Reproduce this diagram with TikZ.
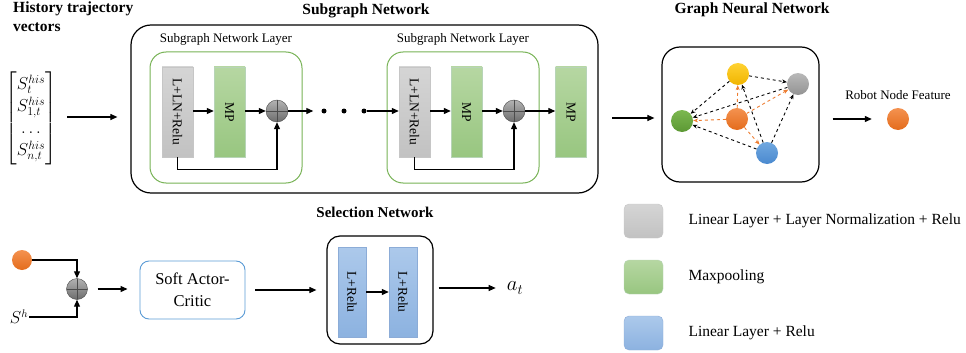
\documentclass[tikz,border=0pt]{standalone}
\usepackage{amsmath}
\usepackage{fontspec}
\setmainfont{Liberation Serif}
\usetikzlibrary{arrows.meta}

\definecolor{frgreen}{HTML}{77B255}
\definecolor{sacblue}{HTML}{5B9BD5}

\tikzset{
  arr/.style={-{Triangle[length=7pt,width=6pt]}, line width=1.1pt},
  title/.style={font=\bfseries\fontsize{15.5}{19}\selectfont},
  txt/.style={font=\fontsize{13}{15}\selectfont},
  legtxt/.style={font=\fontsize{15.5}{18}\selectfont, anchor=west},
  outer/.style={draw, line width=1.2pt, rounded corners=20pt, inner sep=0pt},
  layer/.style={draw=frgreen, line width=1pt, rounded corners=16pt, minimum width=152pt, minimum height=131pt},
  linfill/.style={draw=gray!45, top color=gray!33, bottom color=gray!48},
  mpfill/.style={draw=green!25!gray!45, top color={rgb,255:red,182;green,215;blue,162}, bottom color={rgb,255:red,152;green,198;blue,128}},
  relufill/.style={draw={rgb,255:red,140;green,172;blue,215}, top color={rgb,255:red,172;green,201;blue,235}, bottom color={rgb,255:red,140;green,178;blue,224}},
  blk/.style={inner sep=0pt, minimum width=31pt, minimum height=90pt, font=\fontsize{13.5}{15}\selectfont},
  addc/.style={circle, draw=black!70, top color=gray!60, bottom color=gray!85!black, minimum size=22pt, inner sep=0pt,
    path picture={\draw[line width=0.8pt] (path picture bounding box.north) -- (path picture bounding box.south)
      (path picture bounding box.west) -- (path picture bounding box.east);}},
  dotc/.style={circle, fill=black, minimum size=5pt, inner sep=0pt},
  ball/.style={circle, minimum size=22pt, inner sep=0pt},
  yel/.style={top color={rgb,255:red,255;green,210;blue,50}, bottom color={rgb,255:red,240;green,180;blue,0}},
  gry/.style={top color=gray!55, bottom color=gray!85},
  grn/.style={top color={rgb,255:red,124;green,184;blue,80}, bottom color={rgb,255:red,92;green,152;blue,52}},
  org/.style={top color={rgb,255:red,244;green,146;blue,80}, bottom color={rgb,255:red,228;green,108;blue,28}},
  blu/.style={top color={rgb,255:red,112;green,168;blue,224}, bottom color={rgb,255:red,74;green,137;blue,207}},
  gedge/.style={dashed, line width=0.9pt, -{Stealth[length=5pt,width=4pt]}},
  oedge/.style={gedge, draw={rgb,255:red,237;green,125;blue,49}},
}

\begin{document}
\begin{tikzpicture}[x=1pt,y=-1pt]
\useasboundingbox (0,0) rectangle (966,353);

% history vectors
\node[title, anchor=north west, align=left, inner sep=0pt] (histt) at (13,2) {History trajectory\\vectors};
\node[font=\fontsize{16.5}{22}\selectfont, inner sep=0pt] (mat) at (31,118)
  {$\renewcommand{\arraystretch}{1}\begin{bmatrix} S_t^{his}\\ S_{1,t}^{his}\\ \dots\\ S_{n,t}^{his}\end{bmatrix}$};
\coordinate (matout) at (67,117);

% subgraph network
\node[outer, minimum width=467pt, minimum height=168pt] (sgn) at (364.5,109) {};
\node[title] (sgnt) at (366,11) {Subgraph Network};
\foreach \i/\s in {1/0,2/237}{
  \begin{scope}[shift={(\s,0)}]
  \node[layer] (lay\i) at (226,117.5) {};
  \node[txt] (layt\i) at (226,39) {Subgraph Network Layer};
  \node[blk, linfill] (lin\i) at (177.5,112) {\rotatebox{-90}{L+LN+Relu}};
  \node[blk, mpfill] (mp\i) at (229.5,112) {\rotatebox{-90}{MP}};
  \node[addc] (add\i) at (277,111) {};
  \draw[arr] (lin\i.east |- add\i) -- (mp\i.west |- add\i);
  \draw[arr] (mp\i.east |- add\i) -- (add\i);
  \draw[arr] (lin\i.south) -- ++(0,12) -| (add\i.south);
  \end{scope}
}
\foreach \x [count=\k] in {324,344,364}
  \node[dotc] (dot\k) at (\x,111) {};
\node[blk, mpfill] (mp3) at (571,112) {\rotatebox{-90}{MP}};
\draw[arr, shorten >=8pt] (add1) -- (dot1);
\draw[arr] (dot3) -- (lin2.west |- dot3);
\draw[arr] (add2) -- (mp3.west |- add2);
\draw[arr, shorten >=13pt] (matout) -- (matout -| sgn.west);

% graph neural network
\node[outer, rounded corners=18pt, minimum width=157pt, minimum height=135pt] (gnn) at (740.5,114.5) {};
\node[title] (gnnt) at (752,10) {Graph Neural Network};
\node[ball, yel] (ny) at (738,74) {};
\node[ball, gry] (ngr) at (798,84) {};
\node[ball, grn] (ng) at (682,121) {};
\node[ball, org] (no) at (737,119) {};
\node[ball, blu] (nb) at (767,153) {};
\foreach \a/\b in {ny/ngr, ny/ng, ngr/ng, nb/ng, nb/ny, nb/ngr}
  \draw[gedge] (\a) -- (\b);
\foreach \b in {ny, ngr, ng, nb}
  \draw[oedge] (no) -- (\b);
\coordinate (gnnin) at (612,118);
\draw[arr, shorten >=7pt] (gnnin) -- (gnnin -| gnn.west);

% robot node feature
\node[txt] (rnft) at (898,95) {Robot Node Feature};
\node[ball, org] (rob) at (898,119) {};
\draw[arr, shorten <=13pt, shorten >=15pt] (gnn.east |- rob) -- (rob);

% selection part
\node[ball, org, minimum size=20pt] (obs) at (22,260) {};
\node[addc, minimum size=21pt] (addb) at (77,289) {};
\node[font=\fontsize{16}{18}\selectfont, inner sep=1pt] (sh) at (19,317) {$S^h$};
\draw[arr] (obs.east) -| (addb.north);
\draw[arr] (sh.east) -| (addb.south);
\node[draw=sacblue, line width=0.9pt, rounded corners=9pt, minimum width=105pt, minimum height=58pt, align=center,
  font=\fontsize{16.5}{22}\selectfont] (sac) at (192.5,290) {Soft Actor-\\Critic};
\draw[arr, shorten <=10pt, shorten >=12pt] (addb) -- (sac.west |- addb);
\node[outer, rounded corners=13pt, minimum width=106pt, minimum height=108pt] (sel) at (380,290) {};
\node[title, font=\bfseries\fontsize{15}{18}\selectfont] (selt) at (375,212) {Selection Network};
\node[blk, relufill, minimum width=28pt] (rl1) at (352,292) {\rotatebox{-90}{L+Relu}};
\node[blk, relufill, minimum width=28pt] (rl2) at (403,292) {\rotatebox{-90}{L+Relu}};
\draw[arr] (rl1) -- (rl2);
\draw[arr, shorten <=10pt, shorten >=10pt] (sac.east) -- (sel.west |- sac.east);
\node[font=\fontsize{20}{22}\selectfont, inner sep=1pt] (act) at (515,288) {$a_t$};
\draw[arr, shorten <=5pt, shorten >=10pt] (sel.east |- act) -- (act.west);

% legend
\foreach \n/\st/\y/\t in {1/linfill/221/{Linear Layer + Layer Normalization + Relu},
                          2/mpfill/277/{Maxpooling},
                          3/relufill/333/{Linear Layer + Relu}}{
  \node[\st, rounded corners=5pt, minimum width=39pt, minimum height=34pt] (key\n) at (643.5,\y) {};
  \node[legtxt] (keyt\n) at (685,\y) {\t};
}
\end{tikzpicture}
\end{document}
